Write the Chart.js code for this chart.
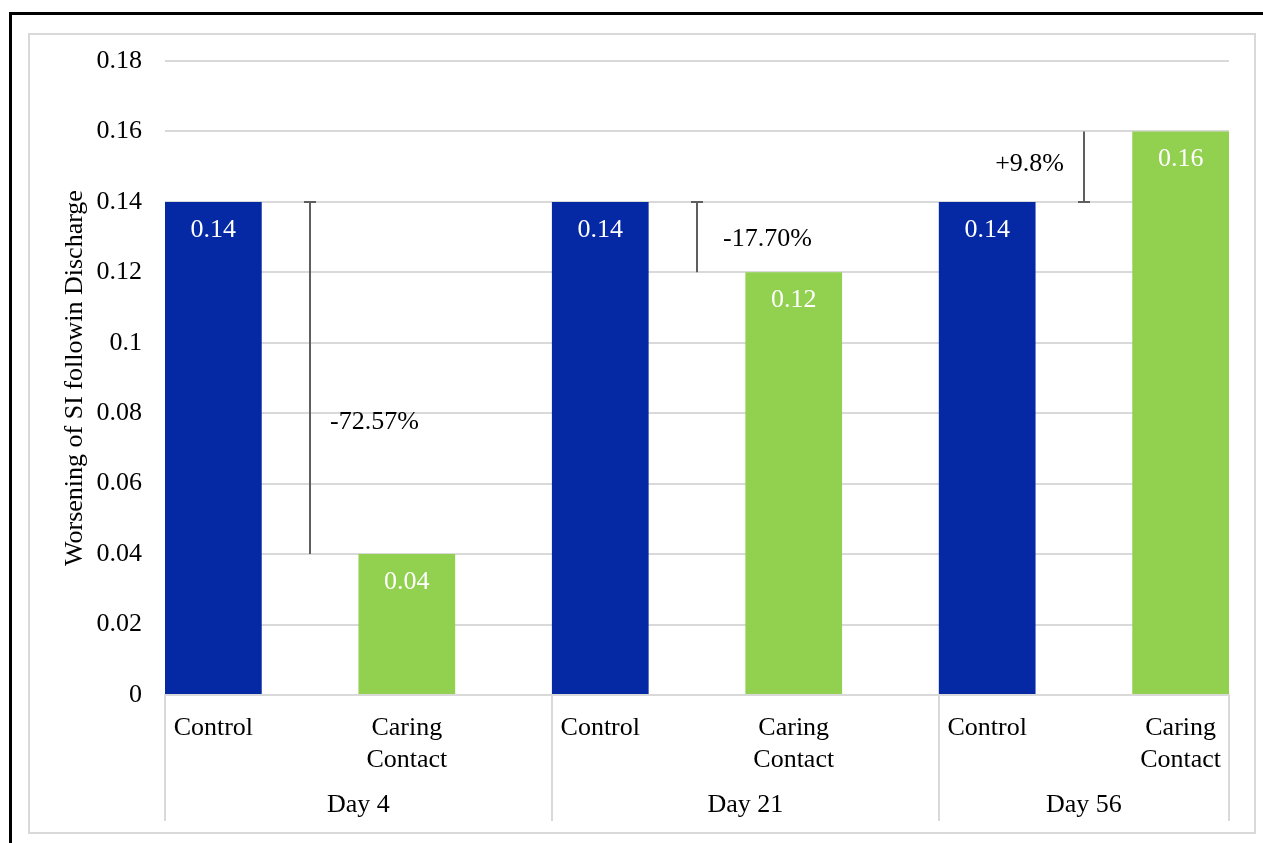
<!DOCTYPE html>
<html><head><meta charset="utf-8">
<script src="https://cdn.jsdelivr.net/npm/chart.js@4.4.1/dist/chart.umd.min.js"></script>
<style>html,body{margin:0;padding:0;background:#fff;overflow:hidden}canvas{display:block}</style>
</head><body>
<canvas id="c" width="1263" height="843"></canvas>
<script>
const groups = ['Day 4', 'Day 21', 'Day 56'];
const seriesNames = ['Control', ['Caring', 'Contact']];
const controlValues = [0.14, 0.14, 0.14];
const caringValues = [0.04, 0.12, 0.16];
const changeLabels = ['-72.57%', '-17.70%', '+9.8%'];
const yAxisTitle = 'Worsening of SI followin Discharge';

const categoryLabels = groups.flatMap(() => seriesNames);
const FONT = '"Liberation Serif", "Times New Roman", serif';
const BLUE = '#0528A5';
const GREEN = '#92D050';
const GRID = '#D9D9D9';
// placement of the change annotations (pixel offset from marker line, y in data units)
const changePlacement = [
  {dx: 20, y: 0.0775, align: 'left'},
  {dx: 26, y: 0.1295, align: 'left'},
  {dx: -20, y: 0.1508, align: 'right'}
];

const decor = {
  id: 'decor',
  beforeDraw(chart) {
    const c = chart.ctx;
    c.save();
    c.fillStyle = '#fff';
    c.fillRect(0, 0, chart.width, chart.height);
    c.strokeStyle = GRID; c.lineWidth = 2;
    c.strokeRect(29, 34, 1226, 799);
    c.strokeStyle = '#000'; c.lineWidth = 3;
    c.beginPath(); c.moveTo(10.5, 843); c.lineTo(10.5, 13.5); c.lineTo(1263, 13.5); c.stroke();
    c.restore();
  },
  afterDatasetsDraw(chart) {
    const c = chart.ctx;
    const x = chart.scales.x, y = chart.scales.y;
    c.save();
    c.font = '26px ' + FONT;
    c.textBaseline = 'middle';
    // value labels inside bars
    c.fillStyle = '#fff'; c.textAlign = 'center';
    chart.data.datasets.forEach((ds, di) => {
      chart.getDatasetMeta(di).data.forEach((el, i) => {
        c.fillText(ds.data[i].y.toFixed(2), el.x, el.y + 28);
      });
    });
    // change markers
    c.strokeStyle = '#5F5F5F'; c.lineWidth = 2;
    groups.forEach((g, i) => {
      const xm = Math.round(x.getPixelForValue(2 * i + 0.5));
      const y0 = y.getPixelForValue(controlValues[i]);
      const y1 = y.getPixelForValue(caringValues[i]);
      c.beginPath();
      c.moveTo(xm, y0); c.lineTo(xm, y1);
      c.moveTo(xm - 6, y0); c.lineTo(xm + 6, y0);
      c.stroke();
      const p = changePlacement[i];
      c.fillStyle = '#000'; c.textAlign = p.align;
      c.fillText(changeLabels[i], xm + p.dx, y.getPixelForValue(p.y));
    });
    // group separators and group labels
    const top = chart.chartArea.bottom, bot = 821;
    const bounds = groups.map((g, i) => x.getPixelForValue(2 * i - 0.25)).concat([x.getPixelForValue(x.max)]);
    c.strokeStyle = GRID; c.lineWidth = 2;
    bounds.forEach(b => {
      const bx = Math.round(b);
      c.beginPath(); c.moveTo(bx, top); c.lineTo(bx, bot); c.stroke();
    });
    c.fillStyle = '#000'; c.textAlign = 'center';
    groups.forEach((g, i) => {
      c.fillText(g, (bounds[i] + bounds[i + 1]) / 2, 805);
    });
    c.restore();
  }
};

new Chart(document.getElementById('c'), {
  type: 'bar',
  data: {
    datasets: [
      {label: 'Control', data: controlValues.map((v, i) => ({x: 2 * i, y: v})), backgroundColor: BLUE},
      {label: 'Caring Contact', data: caringValues.map((v, i) => ({x: 2 * i + 1, y: v})), backgroundColor: GREEN}
    ]
  },
  options: {
    responsive: false, animation: false, devicePixelRatio: 1,
    layout: {padding: {left: 0, top: 61, right: 34, bottom: 0}},
    plugins: {legend: {display: false}, tooltip: {enabled: false}},
    datasets: {bar: {grouped: false, barPercentage: 0.5, categoryPercentage: 1}},
    scales: {
      x: {
        type: 'linear', min: -0.25, max: 5.25, offset: false,
        grid: {display: false, offset: false},
        border: {display: true, color: GRID, width: 2},
        afterBuildTicks(s) { s.ticks = categoryLabels.map((_, i) => ({value: i})); },
        ticks: {
          autoSkip: false, maxRotation: 0, padding: 10, color: '#000',
          font: {family: FONT, size: 26, lineHeight: 1.2},
          callback: (v) => categoryLabels[v]
        },
        afterFit(s) { s.height = 148; s.paddingLeft = 0; s.paddingRight = 0; }
      },
      y: {
        min: 0, max: 0.18,
        grid: {color: GRID, lineWidth: 2, drawTicks: false},
        border: {display: false},
        ticks: {
          stepSize: 0.02, padding: 23, color: '#000',
          font: {family: FONT, size: 26},
          callback: (v) => String(Math.round(v * 100) / 100)
        },
        title: {
          display: true, text: yAxisTitle, color: '#000',
          font: {family: FONT, size: 26, lineHeight: 1.2},
          padding: {top: 60, bottom: 0}
        },
        afterFit(s) { s.width = 165; s.paddingTop = 0; s.paddingBottom = 0; }
      }
    }
  },
  plugins: [decor]
});
</script>
</body></html>
